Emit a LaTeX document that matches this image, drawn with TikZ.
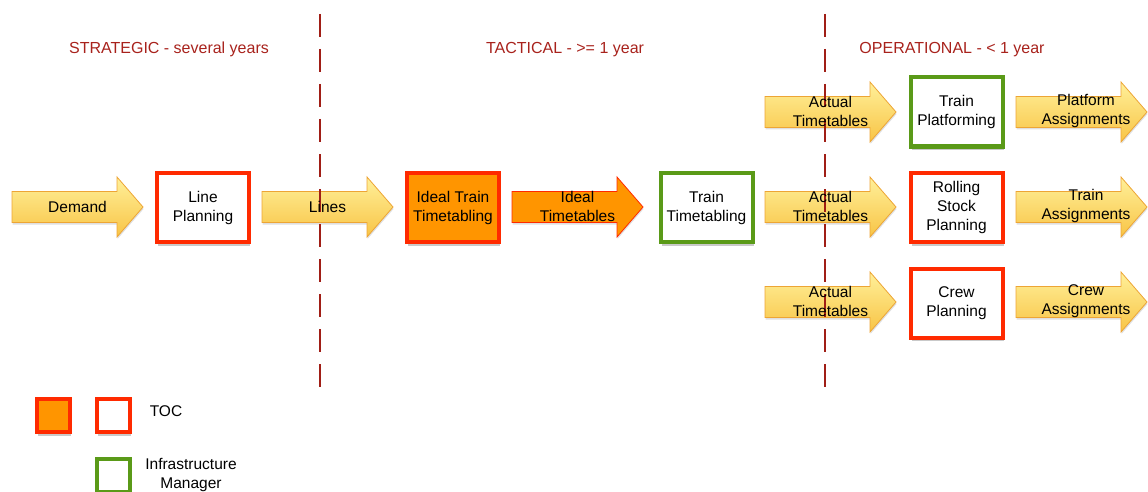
\documentclass[tikz,border=0pt]{standalone}
\usepackage{fontspec}
\setmainfont{Liberation Sans}
\usetikzlibrary{shadows}
\definecolor{tocred}{HTML}{FF2A00}
\definecolor{imgreen}{HTML}{5A9A18}
\definecolor{tocorange}{HTML}{FF9500}
\definecolor{phasered}{HTML}{A8221C}
\definecolor{dashred}{HTML}{A01E16}
\definecolor{arrtop}{HTML}{FFF09A}
\definecolor{arrbot}{HTML}{F8C445}
\definecolor{arredge}{HTML}{EDA535}
\tikzset{
  every node/.style={font=\fontsize{15.5}{19}\selectfont, align=center, text=black},
  boxshadow/.style={drop shadow={shadow xshift=1pt, shadow yshift=-3.5pt, opacity=0.3, fill=black!70}},
  procbox/.style={rectangle, line width=4pt, fill=white, minimum width=92pt, minimum height=69pt, inner sep=0pt, boxshadow},
  tocbox/.style={procbox, draw=tocred},
  tocfill/.style={procbox, draw=tocred, fill=tocorange},
  imbox/.style={procbox, draw=imgreen},
  legbox/.style={rectangle, line width=4pt, minimum width=33pt, minimum height=33pt, inner sep=0pt, boxshadow},
  yellowarrow/.style={draw=arredge, line width=0.8pt, top color=arrtop, bottom color=arrbot,
     drop shadow={shadow xshift=0.5pt, shadow yshift=-2pt, opacity=0.25}},
  orangearrow/.style={draw=tocred, line width=0.8pt, fill=tocorange,
     drop shadow={shadow xshift=0.5pt, shadow yshift=-2pt, opacity=0.25}},
  arrowtext/.style={inner sep=0pt},
  phase/.style={text=phasered, inner sep=0pt, font=\fontsize{16}{19}\selectfont},
  phaseline/.style={draw=dashred, line width=2.2pt, dash pattern=on 23pt off 12pt},
}
\newcommand\blockarrow[3]{% x, y, style
  \path[#3] (#1,#2-15.5) -- (#1+105,#2-15.5) -- (#1+105,#2-30) -- (#1+131,#2)
     -- (#1+105,#2+30) -- (#1+105,#2+15.5) -- (#1,#2+15.5) -- cycle;
}
\begin{document}
\begin{tikzpicture}[x=1pt,y=-1pt]
\useasboundingbox (0,0) rectangle (1148,492);
\clip (0,0) rectangle (1148,492);

% phase titles
\node[phase] (strat) at (169,49.5) {STRATEGIC - several years};
\node[phase] (tact) at (565,49.5) {TACTICAL - >= 1 year};
\node[phase] (oper) at (952,49.5) {OPERATIONAL - < 1 year};

% block arrow shapes
\blockarrow{12}{207}{yellowarrow}
\blockarrow{262}{207}{yellowarrow}
\blockarrow{512}{207}{orangearrow}
\blockarrow{765}{112}{yellowarrow}
\blockarrow{765}{207}{yellowarrow}
\blockarrow{765}{302}{yellowarrow}
\blockarrow{1016}{112}{yellowarrow}
\blockarrow{1016}{207}{yellowarrow}
\blockarrow{1016}{302}{yellowarrow}

% phase separators
\coordinate (s1t) at (320,14); \coordinate (s1b) at (320,398);
\coordinate (s2t) at (825,14); \coordinate (s2b) at (825,398);
\draw[phaseline] (s1t) -- (s1b);
\draw[phaseline] (s2t) -- (s2b);

% arrow labels
\node[arrowtext] (demand) at (77.5,207) {Demand};
\node[arrowtext] (lines) at (327.5,207) {Lines};
\node[arrowtext] (idealtt) at (577.5,206) {Ideal\\Timetables};
\node[arrowtext] (act1) at (830.5,111) {Actual\\Timetables};
\node[arrowtext] (act2) at (830.5,206) {Actual\\Timetables};
\node[arrowtext] (act3) at (830.5,301) {Actual\\Timetables};
\node[arrowtext] (platass) at (1086,111) {Platform\\Assignments};
\node[arrowtext] (trainass) at (1086,206) {Train\\Assignments};
\node[arrowtext] (crewass) at (1086,301) {Crew\\Assignments};

% process boxes
\node[tocbox] (lineplan) at (203,207.5) {Line\\Planning};
\node[tocfill] (idealtrain) at (453,207.5) {Ideal Train\\Timetabling};
\node[imbox] (traintt) at (706.5,207.5) {Train\\Timetabling};
\node[imbox] (platform) at (956.5,112) {Train\\Platforming};
\node[tocbox] (rolling) at (956.5,207.5) {Rolling\\Stock\\Planning};
\node[tocbox] (crew) at (956.5,303) {Crew\\Planning};

% legend
\node[legbox, draw=tocred, fill=tocorange] (legorange) at (53.5,415.5) {};
\node[legbox, draw=tocred, fill=white] (legred) at (113.5,415.5) {};
\node[inner sep=0pt] (legtoc) at (166,411) {TOC};
\node[legbox, draw=imgreen, fill=white] (leggreen) at (113.5,475.5) {};
\node[inner sep=0pt] (legim) at (191,475) {Infrastructure\\Manager};
\end{tikzpicture}
\end{document}
